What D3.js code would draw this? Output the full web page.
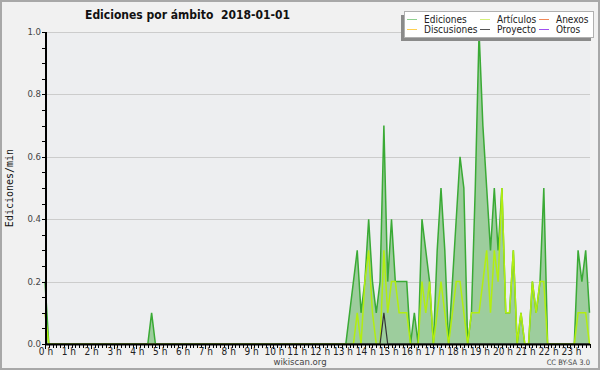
<!DOCTYPE html>
<html>
<head>
<meta charset="utf-8">
<script src="https://cdn.jsdelivr.net/npm/d3@7/dist/d3.min.js"></script>
<style>
  body { margin: 0; background: #f1f1f1; }
  svg { display: block; }
  text { font-family: "DejaVu Sans Condensed", "DejaVu Sans", sans-serif; font-stretch: condensed; }
</style>
</head>
<body>
<div id="chart"></div>
<script>
const width = 600;
const height = 370;

// one value per 10 minutes, 00:00 .. 23:50 (edits per minute)
const ediciones = [
  0.2, 0, 0, 0, 0, 0, 0, 0, 0, 0, 0, 0,
  0, 0, 0, 0, 0, 0, 0, 0, 0, 0, 0, 0,
  0, 0, 0, 0, 0.1, 0, 0, 0, 0, 0, 0, 0,
  0, 0, 0, 0, 0, 0, 0, 0, 0, 0, 0, 0,
  0, 0, 0, 0, 0, 0, 0, 0, 0, 0, 0, 0,
  0, 0, 0, 0, 0, 0, 0, 0, 0, 0, 0, 0,
  0, 0, 0, 0, 0, 0, 0, 0, 0.1, 0.2, 0.3, 0.1,
  0.2, 0.4, 0.2, 0.1, 0.2, 0.7, 0.2, 0.4, 0.2, 0.2, 0.2, 0.2,
  0, 0.1, 0, 0.4, 0.3, 0.2, 0, 0.3, 0.5, 0.3, 0, 0.2,
  0.4, 0.6, 0.5, 0, 0.1, 0.5, 1.0, 0.7, 0.5, 0.3, 0.5, 0.3,
  0.5, 0.1, 0.1, 0.3, 0, 0.1, 0, 0, 0.2, 0.1, 0.2, 0.5,
  0, 0, 0, 0, 0, 0, 0, 0, 0.3, 0.2, 0.3, 0.1
];
const articulos = [
  0.1, 0, 0, 0, 0, 0, 0, 0, 0, 0, 0, 0,
  0, 0, 0, 0, 0, 0, 0, 0, 0, 0, 0, 0,
  0, 0, 0, 0, 0, 0, 0, 0, 0, 0, 0, 0,
  0, 0, 0, 0, 0, 0, 0, 0, 0, 0, 0, 0,
  0, 0, 0, 0, 0, 0, 0, 0, 0, 0, 0, 0,
  0, 0, 0, 0, 0, 0, 0, 0, 0, 0, 0, 0,
  0, 0, 0, 0, 0, 0, 0, 0, 0, 0, 0.1, 0,
  0.2, 0.3, 0.1, 0, 0, 0.3, 0.1, 0.2, 0.2, 0.1, 0.1, 0.1,
  0, 0, 0, 0.2, 0.1, 0.2, 0, 0.1, 0.2, 0.1, 0, 0.1,
  0.2, 0.2, 0.1, 0, 0.1, 0.1, 0.1, 0.2, 0.3, 0.1, 0.3, 0.2,
  0.5, 0.1, 0.1, 0.3, 0, 0.1, 0, 0, 0.2, 0.1, 0.2, 0.2,
  0, 0, 0, 0, 0, 0, 0, 0, 0.1, 0.1, 0.1, 0
];
const proyecto = d3.range(144).map(i => i === 89 ? 0.1 : 0);

const hours = d3.range(24);
const yTicks = [0, 0.2, 0.4, 0.6, 0.8, 1.0];
const legendItems = [
  {name: "Ediciones", color: "#8fd08f", col: 0, row: 0},
  {name: "Discusiones", color: "#ffd050", col: 0, row: 1},
  {name: "Artículos", color: "#d4f07a", col: 1, row: 0},
  {name: "Proyecto", color: "#555555", col: 1, row: 1},
  {name: "Anexos", color: "#f08858", col: 2, row: 0},
  {name: "Otros", color: "#a050f0", col: 2, row: 1}
];

const x = d3.scaleLinear().domain([0, 143]).range([45, 589.5]);
const y = d3.scaleLinear().domain([0, 1]).range([344, 32]);

const svg = d3.select("#chart").append("svg")
  .attr("width", width)
  .attr("height", height);

svg.append("rect").attr("width", width).attr("height", height).attr("fill", "#f1f1f1");
svg.append("rect")
  .attr("x", 46).attr("y", 32).attr("width", 544).attr("height", 312)
  .attr("fill", "#edeef0");

// grid
svg.append("g").selectAll("line").data(yTicks.slice(1)).join("line")
  .attr("x1", 46).attr("x2", 590)
  .attr("y1", d => Math.round(y(d)) + 0.5).attr("y2", d => Math.round(y(d)) + 0.5)
  .attr("stroke", "#cccccc");

// series
const area = d3.area().x((d, i) => x(i)).y0(y(0)).y1(d => y(d));
const line = d3.line().x((d, i) => x(i)).y(d => y(d));

svg.append("path").datum(ediciones).attr("d", area).attr("fill", "#9dcd9d");
svg.append("path").datum(ediciones).attr("d", line)
  .attr("fill", "none").attr("stroke", "#3aaa35").attr("stroke-width", 1.5);
svg.append("path").datum(articulos).attr("d", line)
  .attr("fill", "none").attr("stroke", "#b2ee10").attr("stroke-width", 1.5);
svg.append("path").datum(proyecto).attr("d", line)
  .attr("fill", "none").attr("stroke", "#333333").attr("stroke-width", 1.2);

// axes
const yAxis = svg.append("g");
yAxis.selectAll("line.minor").data(d3.range(0, 1.0001, 0.05)).join("line")
  .attr("x1", 42).attr("x2", 46)
  .attr("y1", d => Math.round(y(d)) + 0.5).attr("y2", d => Math.round(y(d)) + 0.5)
  .attr("stroke", "#000");
yAxis.selectAll("text").data(yTicks).join("text")
  .attr("x", 41).attr("y", d => y(d) + 3)
  .attr("text-anchor", "end")
  .attr("font-size", 9.5).attr("fill", "#444")
  .text(d => d.toFixed(1));
yAxis.append("line").attr("x1", 46).attr("x2", 46).attr("y1", 32).attr("y2", 345)
  .attr("stroke", "#000").attr("stroke-width", 2);

const xAxis = svg.append("g");
xAxis.selectAll("line").data(d3.range(144)).join("line")
  .attr("x1", d => Math.round(x(d)) + 0.5).attr("x2", d => Math.round(x(d)) + 0.5)
  .attr("y1", 344).attr("y2", d => d % 6 === 0 ? 349 : 348)
  .attr("stroke", "#000");
xAxis.selectAll("text").data(hours).join("text")
  .attr("x", d => x(d * 6) + 1).attr("y", 355)
  .attr("text-anchor", "middle")
  .attr("font-size", 10).attr("fill", "#222")
  .text(d => d + " h");
xAxis.append("line").attr("x1", 45).attr("x2", 590).attr("y1", 344.5).attr("y2", 344.5)
  .attr("stroke", "#000").attr("stroke-width", 2);

// titles
svg.append("text").attr("x", 85).attr("y", 19)
  .attr("font-size", 13).attr("font-weight", "bold")
  .attr("textLength", 205).attr("lengthAdjust", "spacingAndGlyphs")
  .attr("fill", "#111")
  .text("Ediciones por ámbito\u00a0\u00a02018-01-01");

svg.append("text")
  .attr("transform", "translate(13,188) rotate(-90)")
  .attr("text-anchor", "middle").attr("font-size", 10)
  .style("font-family", "'DejaVu Sans Mono', monospace").style("font-stretch", "normal")
  .attr("fill", "#111")
  .text("Ediciones/min");

svg.append("text").attr("x", 300).attr("y", 365)
  .attr("text-anchor", "middle").attr("font-size", 9.5).attr("fill", "#444")
  .text("wikiscan.org");
svg.append("text").attr("x", 590).attr("y", 365)
  .attr("text-anchor", "end").attr("font-size", 7.5).attr("fill", "#444")
  .text("CC BY-SA 3.0");

// legend
const legend = svg.append("g");
legend.append("rect").attr("x", 401).attr("y", 15).attr("width", 190).attr("height", 26).attr("fill", "#8a8a8a");
legend.append("rect").attr("x", 404.5).attr("y", 11.5).attr("width", 189).attr("height", 26)
  .attr("fill", "#fff").attr("stroke", "#b0b0b0");
const colX = [407, 480, 539];
const entry = legend.selectAll("g.item").data(legendItems).join("g")
  .attr("transform", d => `translate(${colX[d.col]},${d.row === 0 ? 19.5 : 29.5})`);
entry.append("line").attr("x1", 0).attr("x2", 10).attr("y1", 0).attr("y2", 0)
  .attr("stroke", d => d.color).attr("stroke-width", 1);
entry.append("text").attr("x", 17).attr("y", 3.5)
  .attr("font-size", 10).attr("fill", "#222")
  .text(d => d.name);

// outer frame
svg.append("rect").attr("x", 1).attr("y", 1).attr("width", width - 2).attr("height", height - 2)
  .attr("fill", "none").attr("stroke", "#a8a8a8").attr("stroke-width", 2);
</script>
</body>
</html>
